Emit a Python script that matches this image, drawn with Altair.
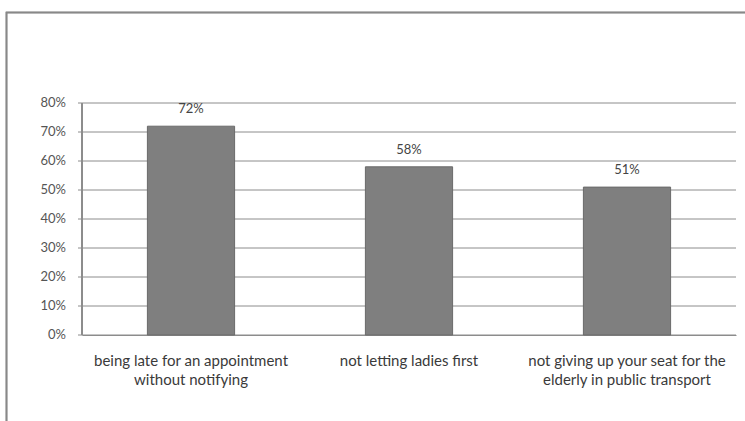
import altair as alt
import pandas as pd

# Share of respondents (in percent) who consider each behaviour impolite
keys = ["late", "ladies", "seat"]
category_lines = {
    "late": ["being late for an appointment", "without notifying"],
    "ladies": ["not letting ladies first"],
    "seat": ["not giving up your seat for the", "elderly in public transport"],
}
shares = [72, 58, 51]
share_labels = ["72%", "58%", "51%"]
y_ticks = [0, 10, 20, 30, 40, 50, 60, 70, 80]
y_tick_labels = ["0%", "10%", "20%", "30%", "40%", "50%", "60%", "70%", "80%"]

df = pd.DataFrame({"key": keys, "share": shares, "label": share_labels})
ticks_df = pd.DataFrame({"tick": y_ticks, "tick_label": y_tick_labels})


def js_list(lines):
    return "[" + ", ".join("'" + s + "'" for s in lines) + "]"


label_expr = (
    f"datum.value == 'late' ? {js_list(category_lines['late'])} : "
    f"datum.value == 'ladies' ? {js_list(category_lines['ladies'])} : "
    f"{js_list(category_lines['seat'])}"
)

FONT = "Lato"
GRID = "#8c8c8c"
W, H = 654, 232

x_axis = alt.Axis(
    labelExpr=label_expr,
    labelAngle=0,
    labelFont=FONT,
    labelFontSize=15,
    labelColor="#3a3a3a",
    labelPadding=18,
    labelLineHeight=19,
    labelBaseline="top",
    labelLimit=400,
    ticks=False,
    domainColor=GRID,
    grid=False,
)
x_scale = alt.Scale(paddingInner=0.6, paddingOuter=0.3)
y_scale = alt.Scale(domain=[0, 80], nice=False)

x_enc = alt.X("key:N", sort=keys, title=None, scale=x_scale, axis=x_axis)
y_enc = alt.Y("share:Q", title=None, scale=y_scale, axis=None)

# horizontal gridlines with short ticks left of the value axis
grid = alt.Chart(ticks_df).mark_rule(color=GRID, strokeWidth=1).encode(
    y=alt.Y("tick:Q", scale=y_scale, axis=None),
    x=alt.value(-4),
    x2=alt.value(W),
)

tick_text = alt.Chart(ticks_df).mark_text(
    align="right", baseline="middle", font=FONT, fontSize=13, color="#555555"
).encode(
    y=alt.Y("tick:Q", scale=y_scale, axis=None),
    x=alt.value(-16),
    text="tick_label:N",
)

value_axis_line = alt.Chart(ticks_df).mark_rule(color=GRID, strokeWidth=1).encode(
    x=alt.value(0), y=alt.value(0), y2=alt.value(H)
)

bars = alt.Chart(df).mark_bar(
    color="#7f7f7f", stroke="#6a6a6a", strokeWidth=1
).encode(x=x_enc, y=y_enc)

labels = alt.Chart(df).mark_text(
    baseline="bottom", dy=-10, font=FONT, fontSize=13, color="#444444"
).encode(x=x_enc, y=y_enc, text="label:N")

# frame around the whole figure
frame = alt.Chart(df).mark_rect(
    fill=None, stroke="#888888", strokeWidth=1.5, clip=False
).encode(
    x=alt.value(-75.5), x2=alt.value(700), y=alt.value(-90.5), y2=alt.value(400)
)

chart = alt.layer(frame, grid, value_axis_line, tick_text, bars, labels).properties(
    width=W,
    height=H,
    autosize=alt.AutoSizeParams(type="none"),
    padding={"left": 82, "top": 103, "right": 9, "bottom": 86},
    background="white",
).configure_view(stroke=None)

chart.save("out.html", embed_options={"renderer": "svg", "actions": False})
